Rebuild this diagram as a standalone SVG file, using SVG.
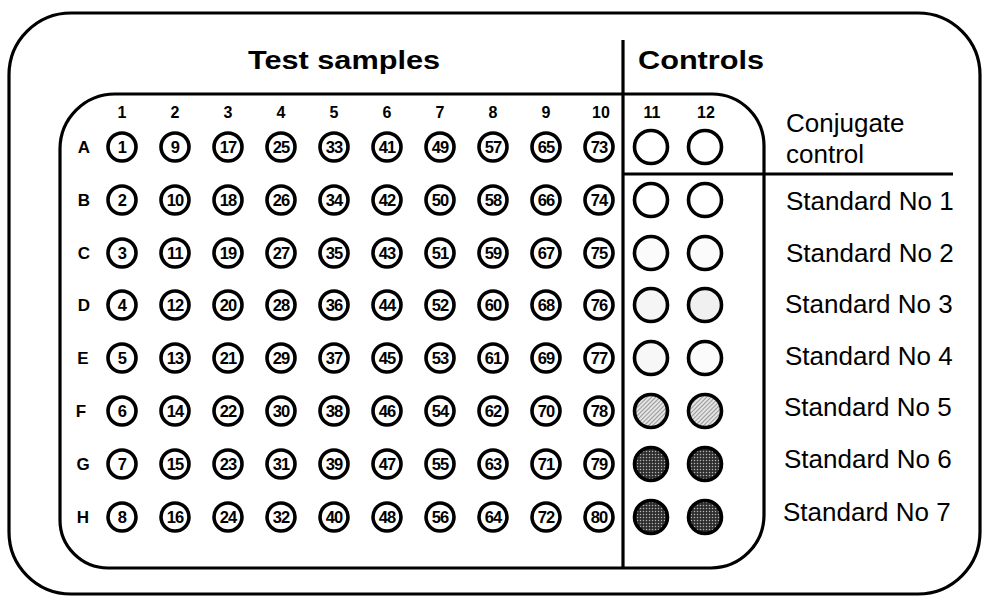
<svg xmlns="http://www.w3.org/2000/svg" width="986" height="597" viewBox="0 0 986 597">
<style>
.frame{fill:none;stroke:#000;stroke-width:3.2}
.line{stroke:#000;stroke-width:3.2;fill:none}
.title{font-family:"Liberation Sans",Arial,sans-serif;font-weight:bold;font-size:26px;fill:#000}
.hdr{font-family:"Liberation Sans",Arial,sans-serif;font-weight:bold;font-size:16px;fill:#000;text-anchor:middle}
.rowl{font-family:"Liberation Sans",Arial,sans-serif;font-weight:bold;font-size:17px;fill:#000;text-anchor:middle}
.well circle{fill:#fff;stroke:#000;stroke-width:3.6}
.well text{font-family:"Liberation Sans",Arial,sans-serif;font-weight:bold;font-size:16.5px;fill:#000;text-anchor:middle;letter-spacing:-0.8px}
.ctl{stroke:#000;stroke-width:3.6}
.lab{font-family:"Liberation Sans",Arial,sans-serif;font-size:26px;fill:#000}
</style>
<defs>
<pattern id="hatch" width="3" height="3" patternUnits="userSpaceOnUse" patternTransform="rotate(45)">
<rect width="3" height="3" fill="#e4e4e4"/>
<line x1="0" y1="0" x2="0" y2="3" stroke="#6e6e6e" stroke-width="1.3"/>
</pattern>
<pattern id="dots" width="3" height="3" patternUnits="userSpaceOnUse">
<rect width="3" height="3" fill="#2e2e2e"/>
<circle cx="1.5" cy="1.5" r="0.75" fill="#b5b5b5"/>
</pattern>
</defs>

<g id="frame">
<rect class="frame" x="9" y="13" width="971" height="581" rx="62" ry="62"/>
</g>

<g id="plate">
<path class="frame" d="M115,94 H712 A52,52 0 0 1 764,146 V515 A53,53 0 0 1 711,568 H108 A48,48 0 0 1 60,520 V149 A55,55 0 0 1 115,94 Z"/>
</g>

<g id="connectors">
<line class="line" x1="623" y1="40" x2="623" y2="568"/>
<line class="line" x1="623" y1="174" x2="953" y2="174"/>
</g>

<g id="titles">
<text class="title" transform="translate(344,69) scale(1.18,1)" text-anchor="middle">Test samples</text>
<text class="title" transform="translate(638,69) scale(1.18,1)">Controls</text>
</g>

<g id="column-labels">
<text class="hdr" x="122" y="118">1</text>
<text class="hdr" x="175" y="118">2</text>
<text class="hdr" x="228" y="118">3</text>
<text class="hdr" x="281" y="118">4</text>
<text class="hdr" x="334" y="118">5</text>
<text class="hdr" x="387" y="118">6</text>
<text class="hdr" x="440" y="118">7</text>
<text class="hdr" x="493" y="118">8</text>
<text class="hdr" x="546" y="118">9</text>
<text class="hdr" x="601" y="118">10</text>
<text class="hdr" x="652" y="118">11</text>
<text class="hdr" x="706" y="118">12</text>
</g>

<g id="row-labels">
<text class="rowl" x="84" y="153">A</text>
<text class="rowl" x="84" y="206">B</text>
<text class="rowl" x="84" y="259">C</text>
<text class="rowl" x="84" y="311">D</text>
<text class="rowl" x="83" y="364">E</text>
<text class="rowl" x="81" y="417">F</text>
<text class="rowl" x="83" y="470">G</text>
<text class="rowl" x="83" y="523">H</text>
</g>

<g id="test-wells">
<g id="well-1" class="well" transform="translate(122,147)"><circle r="14"/><text y="6">1</text></g>
<g id="well-2" class="well" transform="translate(122,200)"><circle r="14"/><text y="6">2</text></g>
<g id="well-3" class="well" transform="translate(122,253)"><circle r="14"/><text y="6">3</text></g>
<g id="well-4" class="well" transform="translate(122,305)"><circle r="14"/><text y="6">4</text></g>
<g id="well-5" class="well" transform="translate(122,358)"><circle r="14"/><text y="6">5</text></g>
<g id="well-6" class="well" transform="translate(122,411)"><circle r="14"/><text y="6">6</text></g>
<g id="well-7" class="well" transform="translate(122,464)"><circle r="14"/><text y="6">7</text></g>
<g id="well-8" class="well" transform="translate(122,517)"><circle r="14"/><text y="6">8</text></g>

<g id="well-9" class="well" transform="translate(175,147)"><circle r="14"/><text y="6">9</text></g>
<g id="well-10" class="well" transform="translate(175,200)"><circle r="14"/><text y="6">10</text></g>
<g id="well-11" class="well" transform="translate(175,253)"><circle r="14"/><text y="6">11</text></g>
<g id="well-12" class="well" transform="translate(175,305)"><circle r="14"/><text y="6">12</text></g>
<g id="well-13" class="well" transform="translate(175,358)"><circle r="14"/><text y="6">13</text></g>
<g id="well-14" class="well" transform="translate(175,411)"><circle r="14"/><text y="6">14</text></g>
<g id="well-15" class="well" transform="translate(175,464)"><circle r="14"/><text y="6">15</text></g>
<g id="well-16" class="well" transform="translate(175,517)"><circle r="14"/><text y="6">16</text></g>

<g id="well-17" class="well" transform="translate(228,147)"><circle r="14"/><text y="6">17</text></g>
<g id="well-18" class="well" transform="translate(228,200)"><circle r="14"/><text y="6">18</text></g>
<g id="well-19" class="well" transform="translate(228,253)"><circle r="14"/><text y="6">19</text></g>
<g id="well-20" class="well" transform="translate(228,305)"><circle r="14"/><text y="6">20</text></g>
<g id="well-21" class="well" transform="translate(228,358)"><circle r="14"/><text y="6">21</text></g>
<g id="well-22" class="well" transform="translate(228,411)"><circle r="14"/><text y="6">22</text></g>
<g id="well-23" class="well" transform="translate(228,464)"><circle r="14"/><text y="6">23</text></g>
<g id="well-24" class="well" transform="translate(228,517)"><circle r="14"/><text y="6">24</text></g>

<g id="well-25" class="well" transform="translate(281,147)"><circle r="14"/><text y="6">25</text></g>
<g id="well-26" class="well" transform="translate(281,200)"><circle r="14"/><text y="6">26</text></g>
<g id="well-27" class="well" transform="translate(281,253)"><circle r="14"/><text y="6">27</text></g>
<g id="well-28" class="well" transform="translate(281,305)"><circle r="14"/><text y="6">28</text></g>
<g id="well-29" class="well" transform="translate(281,358)"><circle r="14"/><text y="6">29</text></g>
<g id="well-30" class="well" transform="translate(281,411)"><circle r="14"/><text y="6">30</text></g>
<g id="well-31" class="well" transform="translate(281,464)"><circle r="14"/><text y="6">31</text></g>
<g id="well-32" class="well" transform="translate(281,517)"><circle r="14"/><text y="6">32</text></g>

<g id="well-33" class="well" transform="translate(334,147)"><circle r="14"/><text y="6">33</text></g>
<g id="well-34" class="well" transform="translate(334,200)"><circle r="14"/><text y="6">34</text></g>
<g id="well-35" class="well" transform="translate(334,253)"><circle r="14"/><text y="6">35</text></g>
<g id="well-36" class="well" transform="translate(334,305)"><circle r="14"/><text y="6">36</text></g>
<g id="well-37" class="well" transform="translate(334,358)"><circle r="14"/><text y="6">37</text></g>
<g id="well-38" class="well" transform="translate(334,411)"><circle r="14"/><text y="6">38</text></g>
<g id="well-39" class="well" transform="translate(334,464)"><circle r="14"/><text y="6">39</text></g>
<g id="well-40" class="well" transform="translate(334,517)"><circle r="14"/><text y="6">40</text></g>

<g id="well-41" class="well" transform="translate(387,147)"><circle r="14"/><text y="6">41</text></g>
<g id="well-42" class="well" transform="translate(387,200)"><circle r="14"/><text y="6">42</text></g>
<g id="well-43" class="well" transform="translate(387,253)"><circle r="14"/><text y="6">43</text></g>
<g id="well-44" class="well" transform="translate(387,305)"><circle r="14"/><text y="6">44</text></g>
<g id="well-45" class="well" transform="translate(387,358)"><circle r="14"/><text y="6">45</text></g>
<g id="well-46" class="well" transform="translate(387,411)"><circle r="14"/><text y="6">46</text></g>
<g id="well-47" class="well" transform="translate(387,464)"><circle r="14"/><text y="6">47</text></g>
<g id="well-48" class="well" transform="translate(387,517)"><circle r="14"/><text y="6">48</text></g>

<g id="well-49" class="well" transform="translate(440,147)"><circle r="14"/><text y="6">49</text></g>
<g id="well-50" class="well" transform="translate(440,200)"><circle r="14"/><text y="6">50</text></g>
<g id="well-51" class="well" transform="translate(440,253)"><circle r="14"/><text y="6">51</text></g>
<g id="well-52" class="well" transform="translate(440,305)"><circle r="14"/><text y="6">52</text></g>
<g id="well-53" class="well" transform="translate(440,358)"><circle r="14"/><text y="6">53</text></g>
<g id="well-54" class="well" transform="translate(440,411)"><circle r="14"/><text y="6">54</text></g>
<g id="well-55" class="well" transform="translate(440,464)"><circle r="14"/><text y="6">55</text></g>
<g id="well-56" class="well" transform="translate(440,517)"><circle r="14"/><text y="6">56</text></g>

<g id="well-57" class="well" transform="translate(493,147)"><circle r="14"/><text y="6">57</text></g>
<g id="well-58" class="well" transform="translate(493,200)"><circle r="14"/><text y="6">58</text></g>
<g id="well-59" class="well" transform="translate(493,253)"><circle r="14"/><text y="6">59</text></g>
<g id="well-60" class="well" transform="translate(493,305)"><circle r="14"/><text y="6">60</text></g>
<g id="well-61" class="well" transform="translate(493,358)"><circle r="14"/><text y="6">61</text></g>
<g id="well-62" class="well" transform="translate(493,411)"><circle r="14"/><text y="6">62</text></g>
<g id="well-63" class="well" transform="translate(493,464)"><circle r="14"/><text y="6">63</text></g>
<g id="well-64" class="well" transform="translate(493,517)"><circle r="14"/><text y="6">64</text></g>

<g id="well-65" class="well" transform="translate(546,147)"><circle r="14"/><text y="6">65</text></g>
<g id="well-66" class="well" transform="translate(546,200)"><circle r="14"/><text y="6">66</text></g>
<g id="well-67" class="well" transform="translate(546,253)"><circle r="14"/><text y="6">67</text></g>
<g id="well-68" class="well" transform="translate(546,305)"><circle r="14"/><text y="6">68</text></g>
<g id="well-69" class="well" transform="translate(546,358)"><circle r="14"/><text y="6">69</text></g>
<g id="well-70" class="well" transform="translate(546,411)"><circle r="14"/><text y="6">70</text></g>
<g id="well-71" class="well" transform="translate(546,464)"><circle r="14"/><text y="6">71</text></g>
<g id="well-72" class="well" transform="translate(546,517)"><circle r="14"/><text y="6">72</text></g>

<g id="well-73" class="well" transform="translate(599,147)"><circle r="14"/><text y="6">73</text></g>
<g id="well-74" class="well" transform="translate(599,200)"><circle r="14"/><text y="6">74</text></g>
<g id="well-75" class="well" transform="translate(599,253)"><circle r="14"/><text y="6">75</text></g>
<g id="well-76" class="well" transform="translate(599,305)"><circle r="14"/><text y="6">76</text></g>
<g id="well-77" class="well" transform="translate(599,358)"><circle r="14"/><text y="6">77</text></g>
<g id="well-78" class="well" transform="translate(599,411)"><circle r="14"/><text y="6">78</text></g>
<g id="well-79" class="well" transform="translate(599,464)"><circle r="14"/><text y="6">79</text></g>
<g id="well-80" class="well" transform="translate(599,517)"><circle r="14"/><text y="6">80</text></g>
</g>

<g id="control-wells">
<g id="conjugate-wells"><circle class="ctl" cx="651" cy="147" r="16.5" fill="#fff"/><circle class="ctl" cx="705" cy="147" r="16.5" fill="#fff"/></g>
<g id="std1-wells"><circle class="ctl" cx="651" cy="200" r="16.5" fill="#fff"/><circle class="ctl" cx="705" cy="200" r="16.5" fill="#fff"/></g>
<g id="std2-wells"><circle class="ctl" cx="651" cy="253" r="16.5" fill="#fbfbfb"/><circle class="ctl" cx="705" cy="253" r="16.5" fill="#fbfbfb"/></g>
<g id="std3-wells"><circle class="ctl" cx="651" cy="305" r="16.5" fill="#f5f5f5"/><circle class="ctl" cx="705" cy="305" r="16.5" fill="#f0f0f0"/></g>
<g id="std4-wells"><circle class="ctl" cx="651" cy="358" r="16.5" fill="#f7f7f7"/><circle class="ctl" cx="705" cy="358" r="16.5" fill="#fbfbfb"/></g>
<g id="std5-wells"><circle class="ctl" cx="651" cy="411" r="16.5" fill="url(#hatch)"/><circle class="ctl" cx="705" cy="411" r="16.5" fill="url(#hatch)"/></g>
<g id="std6-wells"><circle class="ctl" cx="651" cy="464" r="16.5" fill="url(#dots)"/><circle class="ctl" cx="705" cy="464" r="16.5" fill="url(#dots)"/></g>
<g id="std7-wells"><circle class="ctl" cx="651" cy="517" r="16.5" fill="url(#dots)"/><circle class="ctl" cx="705" cy="517" r="16.5" fill="url(#dots)"/></g>
</g>

<g id="control-labels">
<text class="lab" x="786" y="132">Conjugate</text>
<text class="lab" x="786" y="163">control</text>
<text class="lab" x="786" y="210">Standard No 1</text>
<text class="lab" x="786" y="262">Standard No 2</text>
<text class="lab" x="785" y="313">Standard No 3</text>
<text class="lab" x="785" y="365">Standard No 4</text>
<text class="lab" x="784" y="416">Standard No 5</text>
<text class="lab" x="784" y="468">Standard No 6</text>
<text class="lab" x="783" y="521">Standard No 7</text>
</g>
</svg>
